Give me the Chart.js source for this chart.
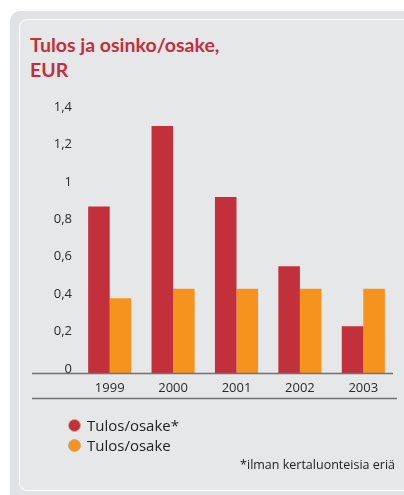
<!DOCTYPE html>
<html>
<head>
<meta charset="utf-8">
<script src="https://cdn.jsdelivr.net/npm/chart.js@4"></script>
<style>
  html, body { margin:0; padding:0; background:#ffffff; width:404px; height:495px; overflow:hidden; font-family:"Open Sans", sans-serif; }
  .outer { position:absolute; left:10px; top:11px; width:430px; height:500px; background:#e1e2e4; border-radius:10px; }
  .inner { position:absolute; left:19px; top:19px; width:430px; height:470px; background:#e6e7e9; border:1px solid #ffffff; border-radius:8px; }
  .title { position:absolute; left:30px; top:32px; margin:0; font-family:Lato, sans-serif; font-size:19.5px; line-height:25px; font-weight:bold; color:#c1303b; }
  #wrap { position:absolute; left:0; top:0; width:404px; height:495px; }
  .legend { position:absolute; left:68px; top:415px; font-size:15px; color:#222; }
  .legend div { height:20px; line-height:20px; display:flex; align-items:center; }
  .legend span.dot { display:inline-block; width:11px; height:11px; border-radius:50%; border:1px solid #b8ad90; margin-right:6px; }
  .note { position:absolute; right:9px; top:456px; font-size:12.5px; color:#222; }
</style>
</head>
<body>
<div class="outer"></div>
<div class="inner"></div>
<div class="title">Tulos ja osinko/osake,<br>EUR</div>
<div id="wrap"><canvas id="c" width="404" height="495"></canvas></div>
<div class="legend" id="legend"></div>
<div class="note">*ilman kertaluonteisia eriä</div>
<script>
const categories = ["1999", "2000", "2001", "2002", "2003"];
const seriesNames = ["Tulos/osake*", "Tulos/osake"];
const tulosExcl = [0.89, 1.32, 0.94, 0.57, 0.25];
const osinko = [0.40, 0.45, 0.45, 0.45, 0.45];
const yTicks = [0, 0.2, 0.4, 0.6, 0.8, 1, 1.2, 1.4];
const colors = ["#c1303b", "#f6921e"];

const axisLines = {
  id: 'axisLines',
  afterDraw(chart) {
    const ctx = chart.ctx;
    const y0 = chart.scales.y.getPixelForValue(0);
    const xb = chart.scales.x.top + 25;
    ctx.save();
    ctx.strokeStyle = '#707173';
    ctx.lineWidth = 1.3;
    ctx.beginPath();
    ctx.moveTo(32, y0 + 0.5); ctx.lineTo(393, y0 + 0.5);
    ctx.moveTo(32, xb + 0.5); ctx.lineTo(397, xb + 0.5);
    ctx.stroke();
    ctx.restore();
  }
};

const chart = new Chart(document.getElementById('c'), {
  type: 'bar',
  data: {
    labels: categories,
    datasets: [
      { label: seriesNames[0], data: tulosExcl, backgroundColor: colors[0] },
      { label: seriesNames[1], data: osinko, backgroundColor: colors[1] }
    ]
  },
  options: {
    responsive: false,
    animation: false,
    devicePixelRatio: 1,
    layout: { padding: { left: 20, right: 9, top: 111, bottom: 82 } },
    categoryPercentage: 0.68,
    barPercentage: 1.0,
    plugins: { legend: { display: false }, tooltip: { enabled: false } },
    scales: {
      x: {
        grid: { display: false, drawTicks: false },
        border: { display: false },
        ticks: { color: '#2a2a2a', font: { family: 'Open Sans', size: 13 }, padding: 7, maxRotation: 0 },
        afterFit: s => { s.height = 40; }
      },
      y: {
        min: 0, max: 1.4,
        grid: { display: false, drawTicks: false },
        border: { display: false },
        afterBuildTicks: s => { s.ticks = yTicks.map(v => ({ value: v })); },
        ticks: {
          color: '#2a2a2a', font: { family: 'Open Sans', size: 13 }, padding: 6, labelOffset: -4,
          callback: v => String(v).replace('.', ',')
        },
        afterFit: s => { s.width = 58; }
      }
    }
  },
  plugins: [axisLines]
});

const lg = document.getElementById('legend');
seriesNames.forEach((n, i) => {
  const d = document.createElement('div');
  d.innerHTML = '<span class="dot" style="background:' + colors[i] + '"></span>' + n;
  lg.appendChild(d);
});
</script>
</body>
</html>
